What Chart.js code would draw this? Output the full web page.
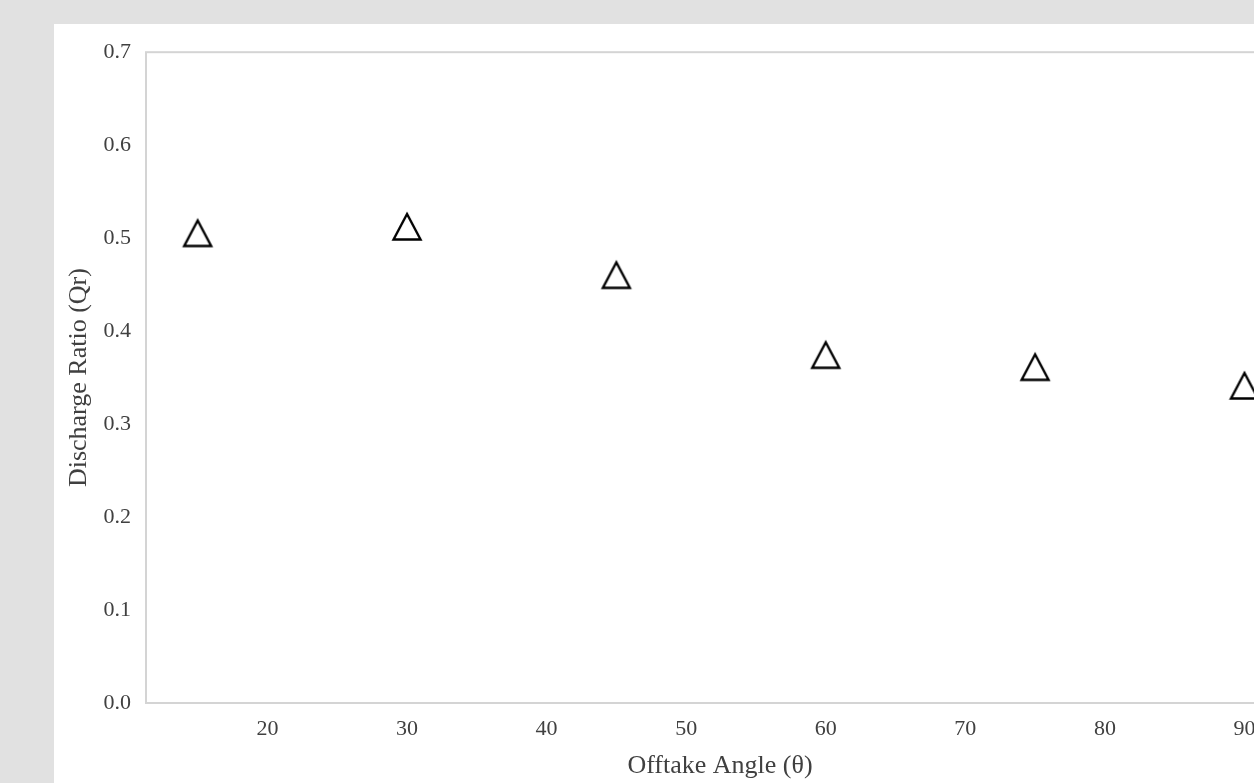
<!DOCTYPE html>
<html>
<head>
<meta charset="utf-8">
<script src="https://cdn.jsdelivr.net/npm/chart.js@4/dist/chart.umd.min.js"></script>
<style>
  html, body { margin: 0; padding: 0; width: 1254px; height: 783px; overflow: hidden; background: #e1e1e1; }
  #panel { position: absolute; left: 54px; top: 24px; width: 1300px; height: 800px; background: #ffffff; }
  #chart { position: absolute; left: 0; top: 0; }
</style>
</head>
<body>
<div id="panel"><canvas id="chart" width="1240" height="760"></canvas></div>
<script>
// Offtake angle (degrees) and measured discharge ratio
const angles = [15, 30, 45, 60, 75, 90];
const dischargeRatio = [0.505, 0.512, 0.46, 0.374, 0.361, 0.341];

// Axis tick values
const xTickValues = [20, 30, 40, 50, 60, 70, 80, 90];
const yTickValues = [0, 0.1, 0.2, 0.3, 0.4, 0.5, 0.6, 0.7];

const serif = "'Times New Roman', 'Liberation Serif', serif";
const textColor = '#404040';
const frameColor = '#d4d4d4';

// Hollow triangle marker, centred on its bounding box
function makeTriangle() {
  const size = 36;
  const c = document.createElement('canvas');
  c.width = size; c.height = size;
  const g = c.getContext('2d');
  const m = size / 2;
  g.beginPath();
  g.moveTo(m, m - 13);
  g.lineTo(m + 13.5, m + 12.5);
  g.lineTo(m - 13.5, m + 12.5);
  g.closePath();
  g.lineWidth = 2.4;
  g.lineJoin = 'miter';
  g.strokeStyle = '#000000';
  g.stroke();
  return c;
}
const triangle = makeTriangle();

// Frame around the plotting area
const frame = {
  id: 'frame',
  beforeDatasetsDraw(chart) {
    const { ctx, chartArea: a } = chart;
    ctx.save();
    ctx.strokeStyle = frameColor;
    ctx.lineWidth = 2;
    ctx.strokeRect(a.left, a.top, a.right - a.left + 10, a.bottom - a.top);
    ctx.restore();
  }
};

new Chart(document.getElementById('chart'), {
  type: 'scatter',
  data: {
    datasets: [{
      label: 'Qr',
      data: angles.map((a, i) => ({ x: a, y: dischargeRatio[i] })),
      pointStyle: triangle,
      pointRadius: 17,
      pointHoverRadius: 17,
      showLine: false
    }]
  },
  options: {
    responsive: false,
    animation: false,
    events: [],
    layout: { autoPadding: false, padding: { top: 23, right: 0, bottom: 0, left: 0 } },
    plugins: { legend: { display: false }, tooltip: { enabled: false } },
    scales: {
      x: {
        type: 'linear',
        min: 11.3,
        max: 93.55,
        afterBuildTicks(scale) { scale.ticks = xTickValues.map(v => ({ value: v })); },
        afterFit(scale) { scale.height = 81; },
        grid: { display: false, drawTicks: false },
        border: { display: false },
        ticks: { color: textColor, font: { family: serif, size: 22 }, padding: 13, maxRotation: 0 },
        title: { display: true, text: 'Offtake Angle (θ)', color: textColor, font: { family: serif, size: 26 }, padding: { top: 0, bottom: 2 } }
      },
      y: {
        type: 'linear',
        min: 0,
        max: 0.7,
        afterBuildTicks(scale) { scale.ticks = yTickValues.map(v => ({ value: v })); },
        afterFit(scale) { scale.width = 92; },
        grid: { display: false, drawTicks: false },
        border: { display: false },
        ticks: { color: textColor, font: { family: serif, size: 22 }, padding: 15, callback: v => v.toFixed(1) },
        title: { display: true, text: 'Discharge Ratio (Qr)', color: textColor, font: { family: serif, size: 26 }, padding: { top: 10, bottom: 0 } }
      }
    }
  },
  plugins: [frame]
});
</script>
</body>
</html>
